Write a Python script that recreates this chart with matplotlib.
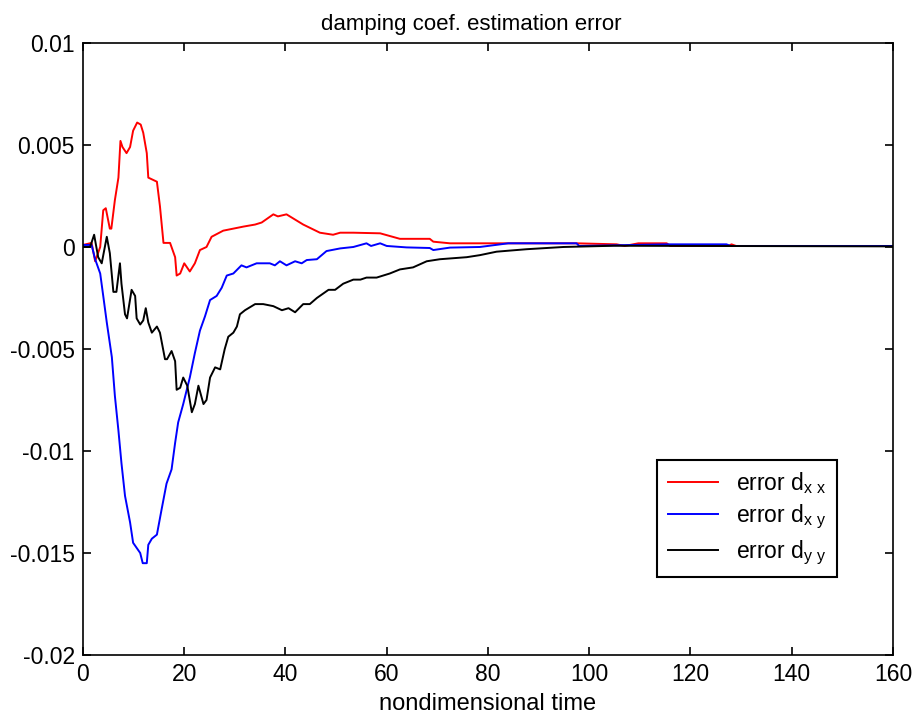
import matplotlib
matplotlib.use('Agg')
from matplotlib import pyplot as plt

plt.rcParams['font.family'] = ['Liberation Sans', 'DejaVu Sans']
plt.rcParams['mathtext.fontset'] = 'custom'
plt.rcParams['mathtext.rm'] = 'Liberation Sans'
plt.rcParams['mathtext.it'] = 'Liberation Sans'
plt.rcParams['axes.unicode_minus'] = False

# 数据：估计误差
t_xx = [0, 1.7, 2.4, 3.4, 4.0, 4.5, 5.3, 5.6, 6.3, 7.0, 7.4, 7.8, 8.6, 9.3, 9.9,
        10.7, 11.4, 11.9, 12.6, 12.9, 14.6, 15.2, 15.9, 17.2, 18.2, 18.5, 19.2,
        20.0, 21.1, 22.1, 23.1, 24.4, 25.4, 27.7, 31.7, 34.0, 35.3, 37.6, 38.5,
        40.2, 43.5, 46.8, 49.4, 50.8, 53.4, 58.7, 62.6, 68.5, 69.2, 72.5, 97.5,
        105.4, 107.0, 109.7, 115.3, 116.0, 127.5, 128.1, 129.0, 160]
e_xx = [0.0001, 0.0002, -0.0007, 0.0, 0.0018, 0.0019, 0.0009, 0.0009, 0.0023,
        0.0034, 0.0052, 0.0049, 0.0046, 0.0049, 0.0057, 0.0061, 0.0060, 0.0056,
        0.0046, 0.0034, 0.0032, 0.0020, 0.0002, 0.0002, -0.0005, -0.0014,
        -0.0013, -0.0008, -0.0012, -0.0008, -0.00015, 0.0, 0.0005, 0.0008,
        0.0010, 0.0011, 0.0012, 0.0016, 0.0015, 0.0016, 0.0011, 0.0007, 0.0006,
        0.0007, 0.0007, 0.00067, 0.0004, 0.0004, 0.00026, 0.00018, 0.00018,
        0.00013, 0.00005, 0.00018, 0.00018, 0.00005, 0.00005, 0.00013, 0.00005,
        0.00005]

t_xy = [0, 1.7, 2.4, 3.4, 4.0, 4.7, 5.7, 6.3, 7.0, 7.6, 8.3, 9.3, 9.9, 11.3,
        11.8, 12.6, 12.9, 13.6, 14.6, 15.5, 16.5, 17.5, 18.2, 18.8, 19.8, 21.1,
        22.1, 23.1, 24.1, 25.1, 26.4, 27.4, 28.4, 29.7, 31.3, 32.3, 34.3, 36.9,
        37.9, 38.9, 40.2, 41.9, 43.2, 44.2, 46.2, 48.1, 50.8, 53.4, 56.0, 56.9,
        58.7, 60.0, 63.9, 68.5, 69.2, 72.5, 78.4, 84.0, 97.5, 98.0, 115.3,
        127.1, 128.0, 160]
e_xy = [0.0001, 0.0001, -0.0006, -0.0013, -0.0024, -0.0037, -0.0054, -0.0073,
        -0.0090, -0.0106, -0.0122, -0.0135, -0.0145, -0.0150, -0.0155, -0.0155,
        -0.0146, -0.0143, -0.0141, -0.0129, -0.0116, -0.0109, -0.0096, -0.0086,
        -0.0077, -0.0064, -0.0052, -0.0041, -0.0034, -0.0026, -0.0024, -0.0020,
        -0.0014, -0.0013, -0.0009, -0.0010, -0.0008, -0.0008, -0.0009, -0.0007,
        -0.0009, -0.0007, -0.0008, -0.00064, -0.0006, -0.0002, -0.00007, 0.0,
        0.00018, 0.00005, 0.00018, 0.00005, -0.00002, -0.00005, -0.00015,
        -0.00003, 0.0, 0.00018, 0.00018, 0.00005, 0.00013, 0.00013, 0.00005,
        0.00005]

t_yy = [0, 1.4, 2.2, 3.0, 3.7, 4.7, 5.3, 6.0, 6.6, 7.3, 7.6, 8.3, 8.7, 9.6,
        10.3, 10.6, 11.3, 11.9, 12.4, 12.9, 13.6, 14.6, 15.2, 16.2, 16.6, 17.5,
        18.2, 18.5, 19.2, 19.8, 20.6, 21.5, 22.1, 22.8, 23.8, 24.4, 25.1, 26.1,
        27.1, 28.0, 28.7, 29.7, 30.4, 31.0, 32.0, 34.0, 35.6, 37.6, 39.3, 40.6,
        41.9, 43.5, 44.8, 46.2, 48.5, 49.8, 51.4, 53.4, 54.8, 56.0, 58.0, 60.6,
        62.6, 65.2, 67.9, 70.5, 75.8, 78.4, 81.7, 87.6, 94.9, 104.8, 160]
e_yy = [0.0, 0.0, 0.0006, -0.0005, -0.0008, 0.0005, -0.0003, -0.0022, -0.0022,
        -0.0008, -0.0018, -0.0033, -0.0035, -0.0021, -0.0024, -0.0035, -0.0038,
        -0.0036, -0.0030, -0.0037, -0.0042, -0.0039, -0.0042, -0.0055, -0.0055,
        -0.0051, -0.0056, -0.0070, -0.0069, -0.0064, -0.0068, -0.0081, -0.0077,
        -0.0068, -0.0077, -0.0075, -0.0064, -0.0059, -0.0060, -0.0050, -0.0044,
        -0.0042, -0.0039, -0.0033, -0.0031, -0.0028, -0.0028, -0.0029, -0.0031,
        -0.0030, -0.0032, -0.0028, -0.0028, -0.0025, -0.0021, -0.0021, -0.0018,
        -0.0016, -0.0016, -0.0015, -0.0015, -0.0013, -0.0011, -0.0010, -0.0007,
        -0.0006, -0.0005, -0.0004, -0.00023, -0.00011, 0.0, 0.00006, 0.00003]

x_ticks = [0, 20, 40, 60, 80, 100, 120, 140, 160]
y_ticks = [0.01, 0.005, 0, -0.005, -0.01, -0.015, -0.02]
y_tick_labels = ['0.01', '0.005', '0', '-0.005', '-0.01', '-0.015', '-0.02']
legend_labels = [r'error d$_{\rm x\ x}$', r'error d$_{\rm x\ y}$', r'error d$_{\rm y\ y}$']

fig = plt.figure(figsize=(9.14, 7.2), dpi=100)
ax = fig.add_axes([0.0908, 0.0903, 0.8862, 0.8500])

ax.plot(t_xx, e_xx, color='red', lw=1.4, label=legend_labels[0])
ax.plot(t_xy, e_xy, color='blue', lw=1.4, label=legend_labels[1])
ax.plot(t_yy, e_yy, color='black', lw=1.4, label=legend_labels[2])

ax.set_xlim(0, 160)
ax.set_ylim(-0.02, 0.01)
ax.set_xticks(x_ticks)
ax.set_xticklabels([str(v) for v in x_ticks])
ax.set_yticks(y_ticks)
ax.set_yticklabels(y_tick_labels)
ax.tick_params(direction='in', length=6, width=1.2, labelsize=16.5,
               top=True, right=True, pad=6)
for s in ax.spines.values():
    s.set_linewidth(1.2)

ax.set_title('damping coef. estimation error', fontsize=16, pad=9, x=0.479)
ax.set_xlabel('nondimensional time', fontsize=17, labelpad=5)

leg = ax.legend(loc='upper left', bbox_to_anchor=(0.709, 0.319), borderaxespad=0,
                fontsize=16.5, fancybox=False, edgecolor='black', framealpha=1,
                handlelength=2.2, borderpad=0.45, labelspacing=0.3)
leg.get_frame().set_linewidth(1.5)

fig.savefig('out.png', dpi=100)
